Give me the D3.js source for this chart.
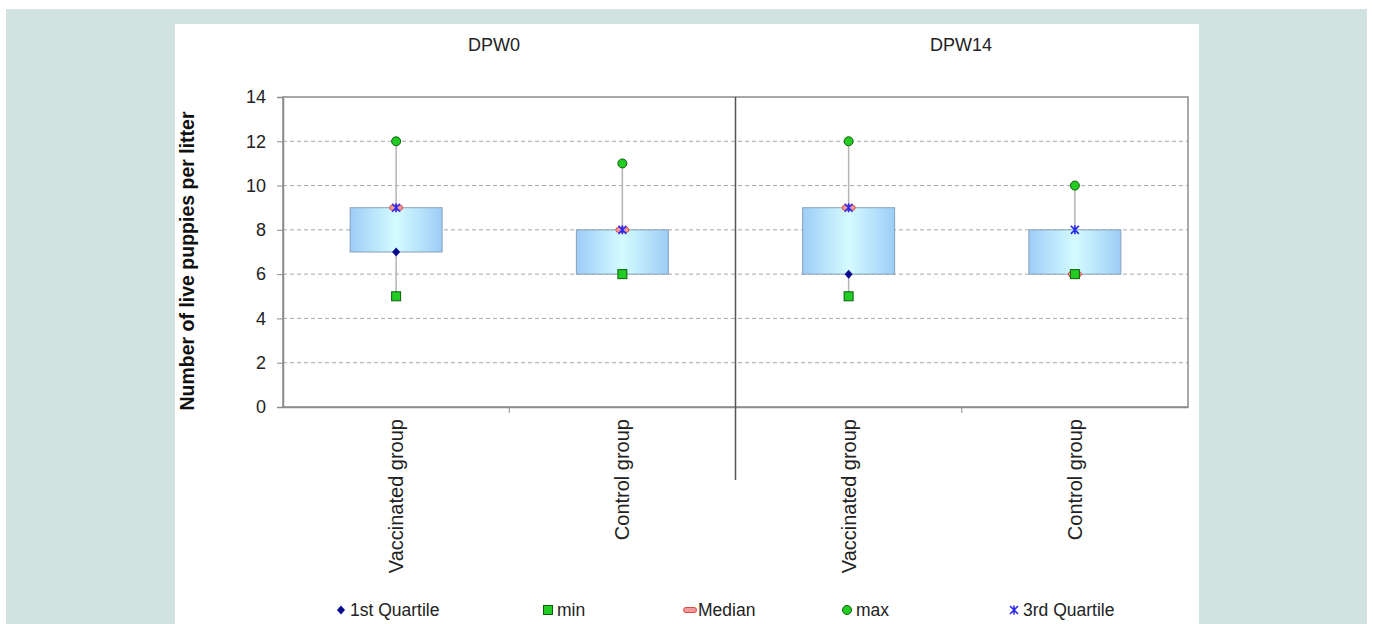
<!DOCTYPE html>
<html><head><meta charset="utf-8">
<script src="https://cdn.jsdelivr.net/npm/d3@7"></script>
<style>
html,body{margin:0;padding:0;background:#fff;}
svg{display:block;font-family:"Liberation Sans",Arial,sans-serif;}
</style></head>
<body>
<svg id="c" width="1373" height="624"></svg>
<script>
const categories = ["Vaccinated group","Control group","Vaccinated group","Control group"];
const panels = ["DPW0","DPW14"];
const minVals = [5,6,5,6];
const q1Vals = [7,6,6,6];
const medianVals = [9,8,9,6];
const q3Vals = [9,8,9,8];
const maxVals = [12,11,12,10];
const yTicks = [0,2,4,6,8,10,12,14];
const legendLabels = ["1st Quartile","min","Median","max","3rd Quartile"];

const svg = d3.select("#c");
svg.append("rect").attr("x",6).attr("y",9).attr("width",1361).attr("height",615).attr("fill","#d1e2e1");
svg.append("rect").attr("x",175).attr("y",24).attr("width",1024).attr("height",600).attr("fill","#fff");

const L=283,R=1188,T=97,B=407;
const x = d3.scaleBand().domain(d3.range(categories.length)).range([L,R]);
const y = d3.scaleLinear().domain([0,14]).range([B,T]);

// gridlines
svg.append("g").selectAll("line").data(yTicks.filter(t=>t>0&&t<14)).join("line")
  .attr("x1",L).attr("x2",R).attr("y1",d=>y(d)).attr("y2",d=>y(d))
  .attr("stroke","#a8a8a8").attr("stroke-width",1).attr("stroke-dasharray","4,3");

// border
svg.append("rect").attr("x",L).attr("y",T).attr("width",R-L).attr("height",B-T)
  .attr("fill","none").attr("stroke","#8c8c8c").attr("stroke-width",1.5);

// y axis
const ya = svg.append("g").attr("transform",`translate(${L},0)`)
  .call(d3.axisLeft(y).tickValues(yTicks).tickSize(6).tickPadding(11));
ya.select(".domain").attr("stroke","#8c8c8c").attr("stroke-width",1.5);
ya.selectAll(".tick line").attr("stroke","#8c8c8c");
ya.selectAll(".tick text").attr("font-size",18).attr("fill","#222").attr("font-family","Liberation Sans, Arial, sans-serif");

// x axis
const xa = svg.append("g").attr("transform",`translate(0,${B})`)
  .call(d3.axisBottom(x).tickSize(0).tickFormat(i=>categories[i]));
xa.select(".domain").attr("stroke","#8c8c8c").attr("stroke-width",1.5);
xa.selectAll(".tick text").attr("font-size",20).attr("fill","#222")
  .attr("font-family","Liberation Sans, Arial, sans-serif")
  .attr("transform","rotate(-90)").attr("text-anchor","end")
  .attr("x",-12).attr("y",0).attr("dy","0.35em");
// category separator ticks
svg.append("g").selectAll("line").data([1,3]).join("line")
  .attr("x1",i=>x(i)).attr("x2",i=>x(i)).attr("y1",B).attr("y2",B+6)
  .attr("stroke","#8c8c8c");
// panel divider
svg.append("line").attr("x1",x(2)).attr("x2",x(2)).attr("y1",T).attr("y2",480)
  .attr("stroke","#555").attr("stroke-width",1.5);

// panel titles
const titleX = [494,961];
svg.append("g").selectAll("text").data(panels).join("text")
  .attr("x",(d,i)=>titleX[i]).attr("y",51).attr("text-anchor","middle")
  .attr("font-size",18).attr("fill","#222").text(d=>d);

// y title
svg.append("text").attr("transform","translate(194,261) rotate(-90)")
  .attr("text-anchor","middle").attr("font-size",19.5).attr("font-weight","bold")
  .attr("fill","#111").text("Number of live puppies per litter");

// gradient
const defs = svg.append("defs");
const g = defs.append("linearGradient").attr("id","bx").attr("x1","0").attr("x2","1").attr("y1","0").attr("y2","0");
g.append("stop").attr("offset","0").attr("stop-color","#9dcdf7");
g.append("stop").attr("offset","0.5").attr("stop-color","#d4fbff");
g.append("stop").attr("offset","1").attr("stop-color","#9dcdf7");

const cx = i=>x(i)+x.bandwidth()/2;
const bw = 92;
const idx = d3.range(categories.length);
// whiskers
svg.append("g").selectAll("line").data(idx).join("line")
  .attr("x1",cx).attr("x2",cx).attr("y1",i=>y(minVals[i])).attr("y2",i=>y(maxVals[i]))
  .attr("stroke","#b4b4b4").attr("stroke-width",1.5);
// boxes
svg.append("g").selectAll("rect").data(idx).join("rect")
  .attr("x",i=>cx(i)-bw/2).attr("width",bw)
  .attr("y",i=>y(q3Vals[i])).attr("height",i=>y(q1Vals[i])-y(q3Vals[i]))
  .attr("fill","url(#bx)").attr("stroke","#8aa0b8").attr("stroke-width",1);

// marker functions
function diamond(sel,px,py){ sel.append("path").attr("d",`M${px},${py-4.5}L${px+4},${py}L${px},${py+4.5}L${px-4},${py}Z`).attr("fill","#0a0a8c"); }
function square(sel,px,py){ sel.append("rect").attr("x",px-4.5).attr("y",py-4.5).attr("width",9).attr("height",9).attr("fill","#22cc22").attr("stroke","#0b5e0b").attr("stroke-width",1); }
function dash(sel,px,py){ sel.append("rect").attr("x",px-6.5).attr("y",py-2.5).attr("width",13).attr("height",5).attr("rx",2.5).attr("fill","#f59a9a").attr("stroke","#e04848").attr("stroke-width",1); }
function circle(sel,px,py){ sel.append("circle").attr("cx",px).attr("cy",py).attr("r",4.5).attr("fill","#22cc22").attr("stroke","#0b5e0b").attr("stroke-width",1); }
function star(sel,px,py){ sel.append("path").attr("d",`M${px-4},${py-4}L${px+4},${py+4}M${px+4},${py-4}L${px-4},${py+4}M${px},${py-4.5}L${px},${py+4.5}`).attr("stroke","#2a2aee").attr("stroke-width",1.6).attr("fill","none"); }

const mk = svg.append("g");
idx.forEach(i=>{
  diamond(mk,cx(i),y(q1Vals[i]));
  dash(mk,cx(i),y(medianVals[i]));
  square(mk,cx(i),y(minVals[i]));
  circle(mk,cx(i),y(maxVals[i]));
  star(mk,cx(i),y(q3Vals[i]));
});

// legend
const lx = [341,548,690,847,1014];
const fns = [diamond,square,dash,circle,star];
const lg = svg.append("g");
legendLabels.forEach((t,i)=>{
  fns[i](lg,lx[i],610);
  lg.append("text").attr("x",lx[i]+(i===2?8:9)).attr("y",610).attr("dy","0.35em")
    .attr("font-size",17.5).attr("fill","#222").text(t);
});
</script>
</body></html>
